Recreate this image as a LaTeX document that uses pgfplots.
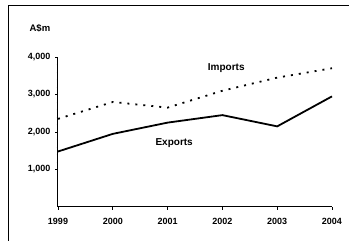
\documentclass[border=0pt]{standalone}
\usepackage{fontspec}
\setmainfont{Liberation Sans}
\usepackage{pgfplots}
\pgfplotsset{compat=1.18}
\begin{document}
\begin{tikzpicture}[x=1pt,y=1pt]
\path[use as bounding box] (0,0) rectangle (349,241);
\draw[line width=1pt] (8,0) -- (8,235) -- (349,235);
\begin{axis}[
  at={(58pt,34pt)}, anchor=south west,
  scale only axis, width=274pt, height=150pt,
  xmin=1999, xmax=2004, ymin=0, ymax=4000,
  axis x line*=bottom, axis y line*=left,
  axis line style={line width=1pt, -},
  xtick={1999,2000,2001,2002,2003,2004},
  ytick={1000,2000,3000,4000},
  minor y tick num=4,
  tick align=outside,
  major tick length=3pt, minor tick length=1.5pt,
  tick style={line width=0.6pt, black},
  xticklabel style={/pgf/number format/1000 sep={}, font=\fontsize{9}{10}\selectfont\bfseries, yshift=-5pt},
  yticklabel style={/pgf/number format/1000 sep={,}, font=\fontsize{9}{10}\selectfont\bfseries, xshift=-1pt},
  /pgf/number format/assume math mode=true,
  clip=false,
]
\addplot[black, line width=1.8pt] coordinates {(1999,1480) (2000,1950) (2001,2250) (2002,2450) (2003,2150) (2004,2950)};
\addplot[black, line width=1.8pt, dash pattern=on 2pt off 6pt] coordinates {(1999,2350) (2000,2800) (2001,2650) (2002,3100) (2003,3450) (2004,3700)};
\node[font=\fontsize{10}{11}\selectfont\bfseries] at (axis cs:2002.07,3700) {Imports};
\node[font=\fontsize{10}{11}\selectfont\bfseries] at (axis cs:2001.12,1700) {Exports};
\node[font=\fontsize{9.5}{11}\selectfont\bfseries] at (axis cs:1998.67,4770) {A\$m};
\end{axis}
\end{tikzpicture}
\end{document}
